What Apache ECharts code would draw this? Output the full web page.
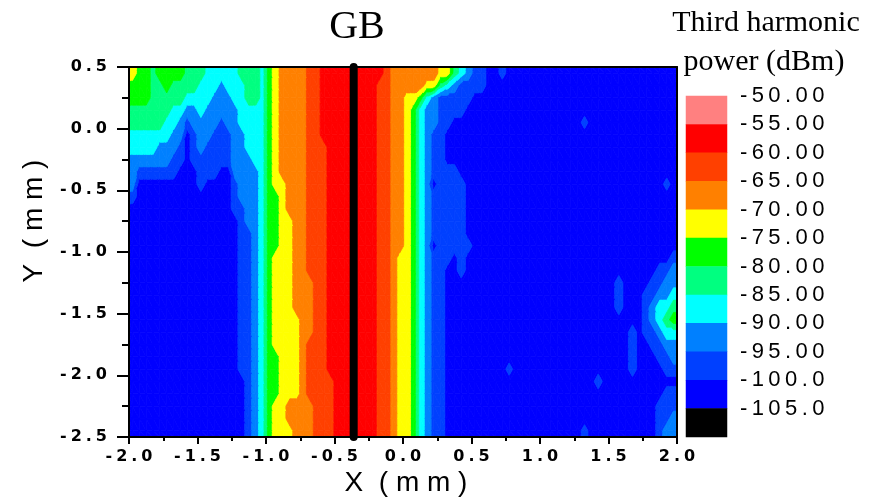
<!DOCTYPE html>
<html>
<head>
<meta charset="utf-8">
<script src="https://cdn.jsdelivr.net/npm/echarts@6/dist/echarts.min.js"></script>
<style>
  html, body { margin: 0; padding: 0; background: #ffffff; }
  #chart { width: 884px; height: 499px; }
</style>
</head>
<body>
<div id="chart"></div>
<script>
// Measurement grid: sample positions in mm (x left to right, y top to bottom)
const xCells = [-1.975,-1.925,-1.875,-1.825,-1.775,-1.725,-1.675,-1.625,-1.575,-1.525,
  -1.475,-1.425,-1.375,-1.325,-1.275,-1.225,-1.175,-1.125,-1.075,-1.025,
  -0.975,-0.925,-0.875,-0.825,-0.775,-0.725,-0.675,-0.625,-0.575,-0.525,
  -0.475,-0.425,-0.375,-0.325,-0.275,-0.225,-0.175,-0.125,-0.075,-0.025,
  0.025,0.075,0.125,0.175,0.225,0.275,0.325,0.375,0.425,0.475,
  0.525,0.575,0.625,0.675,0.725,0.775,0.825,0.875,0.925,0.975,
  1.025,1.075,1.125,1.175,1.225,1.275,1.325,1.375,1.425,1.475,
  1.525,1.575,1.625,1.675,1.725,1.775,1.825,1.875,1.925,1.975];
const yCells = [0.45,0.35,0.25,0.15,0.05,-0.05,-0.15,-0.25,-0.35,-0.45,
  -0.55,-0.65,-0.75,-0.85,-0.95,-1.05,-1.15,-1.25,-1.35,-1.45,
  -1.55,-1.65,-1.75,-1.85,-1.95,-2.05,-2.15,-2.25,-2.35,-2.45];

// Third harmonic power (dBm), one row per yCells entry, one value per xCells entry
const powerRows = [
  [-72,-77,-77,-82,-77,-77,-77,-77,-82,-82, -82,-87,-87,-87,-87,-87,-82,-82,-82,-87, -77,-72,-67,-67,-67,-67,-62,-62,-57,-57, -57,-57,-57,-57,-57,-57,-57,-62,-67,-67, -67,-67,-67,-67,-67,-72,-72,-82,-87,-92, -97,-97,-102,-102,-98,-102,-102,-102,-102,-102, -102,-102,-102,-102,-102,-102,-102,-102,-102,-102, -102,-102,-102,-102,-102,-102,-102,-102,-102,-102],
  [-77,-77,-77,-82,-82,-77,-82,-82,-82,-82, -87,-87,-87,-92,-87,-87,-87,-82,-82,-87, -77,-72,-67,-67,-67,-67,-62,-62,-57,-57, -57,-57,-57,-57,-57,-57,-62,-62,-67,-67, -67,-67,-67,-72,-72,-82,-87,-92,-97,-97, -97,-97,-102,-102,-102,-102,-102,-102,-102,-102, -102,-102,-102,-102,-102,-102,-102,-102,-102,-102, -102,-102,-102,-102,-102,-102,-102,-102,-102,-102],
  [-77,-77,-77,-82,-82,-82,-82,-82,-87,-87, -87,-87,-92,-92,-92,-87,-87,-82,-82,-87, -77,-72,-67,-67,-67,-67,-62,-62,-57,-57, -57,-57,-57,-57,-57,-57,-62,-62,-67,-67, -72,-72,-77,-87,-92,-97,-97,-97,-97,-97, -102,-102,-102,-102,-102,-102,-102,-102,-102,-102, -102,-102,-102,-102,-102,-102,-102,-102,-102,-102, -102,-102,-102,-102,-102,-102,-102,-102,-102,-102],
  [-82,-82,-82,-82,-82,-82,-87,-87,-92,-92, -87,-92,-92,-92,-92,-92,-87,-87,-87,-87, -77,-72,-67,-67,-67,-67,-62,-62,-57,-57, -57,-57,-57,-57,-57,-57,-62,-62,-67,-67, -72,-77,-87,-92,-92,-97,-97,-97,-97,-102, -102,-102,-102,-102,-102,-102,-102,-102,-102,-102, -102,-102,-102,-102,-102,-102,-102,-102,-102,-102, -102,-102,-102,-102,-102,-102,-102,-102,-102,-102],
  [-82,-82,-82,-82,-82,-87,-87,-92,-97,-92, -92,-92,-92,-97,-92,-92,-87,-87,-87,-87, -77,-72,-67,-67,-67,-67,-62,-62,-57,-57, -57,-57,-57,-57,-57,-57,-62,-62,-67,-67, -72,-77,-87,-92,-92,-97,-97,-102,-102,-102, -102,-102,-102,-102,-102,-102,-102,-102,-102,-102, -102,-102,-102,-102,-102,-102,-98,-102,-102,-102, -102,-102,-102,-102,-102,-102,-102,-102,-102,-102],
  [-87,-87,-87,-87,-87,-87,-92,-92,-102,-97, -92,-92,-97,-97,-97,-92,-92,-87,-87,-87, -77,-72,-67,-67,-67,-67,-62,-62,-57,-57, -57,-57,-57,-57,-57,-57,-62,-62,-67,-67, -72,-77,-87,-92,-97,-97,-102,-102,-102,-102, -102,-102,-102,-102,-102,-102,-102,-102,-102,-102, -102,-102,-102,-102,-102,-102,-102,-102,-102,-102, -102,-102,-102,-102,-102,-102,-102,-102,-102,-102],
  [-87,-87,-87,-87,-92,-92,-92,-97,-102,-97, -92,-97,-97,-97,-97,-92,-92,-87,-87,-87, -77,-72,-67,-67,-67,-67,-62,-62,-62,-57, -57,-57,-57,-57,-57,-57,-62,-62,-67,-67, -72,-77,-87,-92,-97,-97,-102,-102,-102,-102, -102,-102,-102,-102,-102,-102,-102,-102,-102,-102, -102,-102,-102,-102,-102,-102,-102,-102,-102,-102, -102,-102,-102,-102,-102,-102,-102,-102,-102,-102],
  [-92,-92,-92,-92,-92,-92,-97,-97,-102,-97, -97,-97,-97,-97,-97,-92,-92,-92,-87,-87, -77,-72,-67,-67,-67,-67,-62,-62,-62,-57, -57,-57,-57,-57,-57,-57,-62,-62,-67,-67, -72,-77,-87,-92,-97,-97,-102,-102,-102,-102, -102,-102,-102,-102,-102,-102,-102,-102,-102,-102, -102,-102,-102,-102,-102,-102,-102,-102,-102,-102, -102,-102,-102,-102,-102,-102,-102,-102,-102,-102],
  [-92,-97,-97,-97,-97,-97,-97,-102,-102,-102, -97,-97,-97,-102,-102,-92,-92,-92,-92,-87, -77,-72,-67,-67,-67,-67,-62,-62,-62,-57, -57,-57,-57,-57,-57,-57,-62,-62,-67,-67, -72,-77,-87,-92,-97,-97,-97,-97,-102,-102, -102,-102,-102,-102,-102,-102,-102,-102,-102,-102, -102,-102,-102,-102,-102,-102,-102,-102,-102,-102, -102,-102,-102,-102,-102,-102,-102,-102,-102,-102],
  [-92,-102,-102,-102,-102,-102,-102,-102,-102,-102, -97,-102,-102,-102,-102,-97,-92,-92,-92,-87, -77,-72,-72,-67,-67,-67,-62,-62,-62,-57, -57,-57,-57,-57,-57,-57,-62,-62,-67,-67, -72,-77,-87,-92,-102,-97,-97,-97,-97,-102, -102,-102,-102,-102,-102,-102,-102,-102,-102,-102, -102,-102,-102,-102,-102,-102,-102,-102,-102,-102, -102,-102,-102,-102,-102,-102,-102,-102,-98,-102],
  [-97,-102,-102,-102,-102,-102,-102,-102,-102,-102, -102,-102,-102,-102,-102,-97,-92,-92,-92,-87, -77,-77,-72,-67,-67,-67,-62,-62,-62,-57, -57,-57,-57,-57,-57,-57,-62,-62,-67,-67, -72,-77,-87,-92,-97,-97,-97,-97,-97,-102, -102,-102,-102,-102,-102,-102,-102,-102,-102,-102, -102,-102,-102,-102,-102,-102,-102,-102,-102,-102, -102,-102,-102,-102,-102,-102,-102,-102,-102,-102],
  [-102,-102,-102,-102,-102,-102,-102,-102,-102,-102, -102,-102,-102,-102,-102,-97,-97,-92,-92,-87, -77,-77,-72,-67,-67,-67,-62,-62,-62,-57, -57,-57,-57,-57,-57,-57,-62,-62,-67,-67, -72,-77,-87,-92,-97,-97,-97,-97,-97,-102, -102,-102,-102,-102,-102,-102,-102,-102,-102,-102, -102,-102,-102,-102,-102,-102,-102,-102,-102,-102, -102,-102,-102,-102,-102,-102,-102,-102,-102,-102],
  [-102,-102,-102,-102,-102,-102,-102,-102,-102,-102, -102,-102,-102,-102,-102,-102,-97,-92,-92,-87, -77,-77,-72,-72,-67,-67,-62,-62,-62,-57, -57,-57,-57,-57,-57,-57,-62,-62,-67,-67, -72,-77,-87,-92,-97,-97,-97,-97,-97,-102, -102,-102,-102,-102,-102,-102,-102,-102,-102,-102, -102,-102,-102,-102,-102,-102,-102,-102,-102,-102, -102,-102,-102,-102,-102,-102,-102,-102,-102,-102],
  [-102,-102,-102,-102,-102,-102,-102,-102,-102,-102, -102,-102,-102,-102,-102,-102,-97,-97,-92,-87, -77,-77,-72,-72,-67,-67,-62,-62,-62,-57, -57,-57,-57,-57,-57,-57,-62,-62,-67,-67, -72,-77,-87,-92,-97,-97,-97,-97,-97,-102, -102,-102,-102,-102,-102,-102,-102,-102,-102,-102, -102,-102,-102,-102,-102,-102,-102,-102,-102,-102, -102,-102,-102,-102,-102,-102,-102,-102,-102,-102],
  [-102,-102,-102,-102,-102,-102,-102,-102,-102,-102, -102,-102,-102,-102,-102,-102,-97,-97,-92,-87, -77,-77,-72,-72,-67,-67,-62,-62,-62,-57, -57,-57,-57,-57,-57,-57,-62,-62,-67,-67, -72,-77,-87,-92,-102,-97,-97,-97,-97,-97, -102,-102,-102,-102,-102,-102,-102,-102,-102,-102, -102,-102,-102,-102,-102,-102,-102,-102,-102,-102, -102,-102,-102,-102,-102,-102,-102,-102,-102,-102],
  [-102,-102,-102,-102,-102,-102,-102,-102,-102,-102, -102,-102,-102,-102,-102,-102,-97,-97,-92,-87, -77,-72,-72,-72,-67,-67,-62,-62,-62,-57, -57,-57,-57,-57,-57,-57,-62,-62,-67,-72, -72,-77,-87,-92,-97,-97,-97,-102,-97,-102, -102,-102,-102,-102,-102,-102,-102,-102,-102,-102, -102,-102,-102,-102,-102,-102,-102,-102,-102,-102, -102,-102,-102,-102,-102,-102,-102,-102,-102,-97],
  [-102,-102,-102,-102,-102,-102,-102,-102,-102,-102, -102,-102,-102,-102,-102,-102,-97,-97,-92,-87, -77,-72,-72,-72,-67,-67,-62,-62,-62,-57, -57,-57,-57,-57,-57,-57,-62,-62,-67,-72, -72,-77,-87,-92,-97,-97,-102,-102,-97,-102, -102,-102,-102,-102,-102,-102,-102,-102,-102,-102, -102,-102,-102,-102,-102,-102,-102,-102,-102,-102, -102,-102,-102,-102,-102,-102,-102,-97,-97,-92],
  [-102,-102,-102,-102,-102,-102,-102,-102,-102,-102, -102,-102,-102,-102,-102,-102,-97,-97,-92,-87, -77,-72,-72,-72,-67,-67,-67,-62,-62,-57, -57,-57,-57,-57,-57,-57,-62,-62,-67,-72, -72,-77,-87,-92,-97,-97,-102,-102,-102,-102, -102,-102,-102,-102,-102,-102,-102,-102,-102,-102, -102,-102,-102,-102,-102,-102,-102,-102,-102,-102, -102,-97,-102,-102,-102,-102,-97,-97,-92,-92],
  [-102,-102,-102,-102,-102,-102,-102,-102,-102,-102, -102,-102,-102,-102,-102,-102,-97,-97,-92,-87, -77,-72,-72,-72,-67,-67,-67,-62,-62,-57, -57,-57,-57,-57,-57,-57,-62,-62,-67,-72, -72,-77,-87,-92,-97,-97,-102,-102,-102,-102, -102,-102,-102,-102,-102,-102,-102,-102,-102,-102, -102,-102,-102,-102,-102,-102,-102,-102,-102,-102, -102,-97,-102,-102,-102,-97,-97,-92,-92,-87],
  [-102,-102,-102,-102,-102,-102,-102,-102,-102,-102, -102,-102,-102,-102,-102,-102,-97,-97,-92,-87, -77,-72,-72,-72,-67,-67,-67,-62,-62,-57, -57,-57,-57,-57,-57,-57,-62,-62,-67,-72, -72,-77,-87,-92,-97,-97,-102,-102,-102,-102, -102,-102,-102,-102,-102,-102,-102,-102,-102,-102, -102,-102,-102,-102,-102,-102,-102,-102,-102,-102, -102,-97,-102,-102,-102,-97,-92,-87,-87,-82],
  [-102,-102,-102,-102,-102,-102,-102,-102,-102,-102, -102,-102,-102,-102,-102,-102,-97,-97,-92,-87, -77,-72,-72,-72,-72,-67,-67,-62,-62,-57, -57,-57,-57,-57,-57,-57,-62,-62,-67,-72, -72,-77,-87,-92,-97,-97,-102,-102,-102,-102, -102,-102,-102,-102,-102,-102,-102,-102,-102,-102, -102,-102,-102,-102,-102,-102,-102,-102,-102,-102, -102,-102,-102,-102,-102,-97,-92,-87,-82,-77],
  [-102,-102,-102,-102,-102,-102,-102,-102,-102,-102, -102,-102,-102,-102,-102,-102,-97,-97,-92,-87, -77,-72,-72,-72,-72,-67,-67,-62,-62,-57, -57,-57,-57,-57,-57,-57,-62,-62,-67,-72, -72,-77,-87,-92,-97,-97,-102,-102,-102,-102, -102,-102,-102,-102,-102,-102,-102,-102,-102,-102, -102,-102,-102,-102,-102,-102,-102,-102,-102,-102, -102,-102,-102,-97,-102,-97,-97,-92,-87,-87],
  [-102,-102,-102,-102,-102,-102,-102,-102,-102,-102, -102,-102,-102,-102,-102,-102,-97,-97,-92,-87, -77,-72,-72,-72,-72,-67,-62,-62,-62,-57, -57,-57,-57,-57,-57,-57,-62,-62,-67,-72, -72,-77,-87,-92,-97,-97,-102,-102,-102,-102, -102,-102,-102,-102,-102,-102,-102,-102,-102,-102, -102,-102,-102,-102,-102,-102,-102,-102,-102,-102, -102,-102,-102,-97,-102,-102,-97,-97,-92,-92],
  [-102,-102,-102,-102,-102,-102,-102,-102,-102,-102, -102,-102,-102,-102,-102,-102,-97,-97,-92,-87, -77,-77,-72,-72,-72,-67,-62,-62,-62,-57, -57,-57,-57,-57,-57,-57,-62,-62,-67,-72, -72,-77,-87,-92,-97,-97,-102,-102,-102,-102, -102,-102,-102,-102,-102,-102,-102,-102,-102,-102, -102,-102,-102,-102,-102,-102,-102,-102,-102,-102, -102,-102,-102,-97,-102,-102,-102,-97,-97,-92],
  [-102,-102,-102,-102,-102,-102,-102,-102,-102,-102, -102,-102,-102,-102,-102,-102,-97,-97,-92,-87, -77,-77,-72,-72,-72,-67,-62,-62,-62,-57, -57,-57,-57,-57,-57,-57,-62,-62,-67,-72, -72,-77,-87,-92,-97,-97,-102,-102,-102,-102, -102,-102,-102,-102,-102,-98,-102,-102,-102,-102, -102,-102,-102,-102,-102,-102,-102,-102,-102,-102, -102,-102,-102,-97,-102,-102,-102,-102,-97,-97],
  [-102,-102,-102,-102,-102,-102,-102,-102,-102,-102, -102,-102,-102,-102,-102,-102,-102,-97,-92,-87, -77,-77,-72,-72,-72,-67,-62,-62,-62,-62, -57,-57,-57,-57,-57,-57,-62,-62,-67,-72, -72,-77,-87,-92,-97,-97,-102,-102,-102,-102, -102,-102,-102,-102,-102,-102,-102,-102,-102,-102, -102,-102,-102,-102,-102,-102,-102,-102,-97,-102, -102,-102,-102,-102,-102,-102,-102,-102,-102,-102],
  [-102,-102,-102,-102,-102,-102,-102,-102,-102,-102, -102,-102,-102,-102,-102,-102,-102,-97,-92,-87, -77,-77,-72,-72,-72,-67,-62,-62,-62,-62, -57,-57,-57,-57,-57,-57,-62,-62,-67,-72, -72,-77,-87,-92,-97,-97,-102,-102,-102,-102, -102,-102,-102,-102,-102,-102,-102,-102,-102,-102, -102,-102,-102,-102,-102,-102,-102,-102,-102,-102, -102,-102,-102,-102,-102,-102,-102,-102,-97,-97],
  [-102,-102,-102,-102,-102,-102,-102,-102,-102,-102, -102,-102,-102,-102,-102,-102,-102,-97,-92,-87, -77,-72,-72,-67,-67,-67,-67,-62,-62,-62, -57,-57,-57,-57,-57,-57,-62,-62,-67,-72, -72,-77,-87,-92,-97,-97,-102,-102,-102,-102, -102,-102,-102,-102,-102,-102,-102,-102,-102,-102, -102,-102,-102,-102,-102,-102,-102,-102,-102,-102, -102,-102,-102,-102,-102,-102,-102,-97,-97,-97],
  [-102,-102,-102,-102,-102,-102,-102,-102,-102,-102, -102,-102,-102,-102,-102,-102,-102,-97,-92,-87, -77,-72,-72,-67,-67,-67,-67,-62,-62,-62, -57,-57,-57,-57,-57,-57,-62,-62,-67,-72, -72,-77,-87,-92,-97,-97,-102,-102,-102,-102, -102,-102,-102,-102,-102,-102,-102,-102,-102,-102, -102,-102,-102,-102,-102,-102,-102,-102,-102,-102, -102,-102,-102,-102,-102,-102,-102,-97,-97,-92],
  [-102,-102,-102,-102,-102,-102,-102,-102,-102,-102, -102,-102,-102,-102,-102,-102,-102,-97,-92,-87, -77,-72,-72,-72,-67,-67,-67,-62,-62,-62, -57,-57,-57,-57,-57,-57,-62,-62,-67,-72, -72,-77,-87,-92,-97,-97,-102,-102,-102,-102, -102,-102,-102,-102,-102,-102,-102,-102,-102,-102, -102,-102,-102,-102,-102,-102,-98,-102,-102,-102, -102,-102,-102,-102,-102,-102,-102,-97,-92,-92]
];

// Contour levels (dBm): band boundaries low to high and the fill of each band
const levelEdges = [-110,-105,-100,-95,-90,-85,-80,-75,-70,-65,-60,-55,-50];
const levelColors = ['#000000','#0000FF','#0040FF','#0080FF','#00FFFF','#00FF80',
                     '#00FF00','#FFFF00','#FF8000','#FF4000','#FF0000','#FF8080'];
// Colour-bar swatches, top to bottom (band mid values)
const legendCells = [-52.5,-57.5,-62.5,-67.5,-72.5,-77.5,-82.5,-87.5,-92.5,-97.5,-102.5,-107.5];

// Grain-boundary marker position (mm)
const markerX = [-0.36, -0.36];
const markerY = [0.5, -2.5];

const black = '#000000';
const spaced = (s, gap) => s.split('').join(gap);

// Contour mesh: sample nodes plus the plot frame, edge samples held out to the frame
const nodeX = [-2].concat(xCells, [2]);
const nodeY = [0.5].concat(yCells, [-2.5]);
const clampIdx = (k, n) => Math.max(0, Math.min(n - 1, k));
const nodeValue = (j, i) => powerRows[clampIdx(j - 1, powerRows.length)][clampIdx(i - 1, xCells.length)];

const squares = [];
for (let j = 0; j < nodeY.length - 1; j++) {
  for (let i = 0; i < nodeX.length - 1; i++) {
    squares.push([nodeX[i], nodeY[j], i, j]);
  }
}

// Keep the part of a convex polygon where side(v) >= 0 (values vary linearly)
function clipPoly(poly, side) {
  const out = [];
  for (let k = 0; k < poly.length; k++) {
    const a = poly[k], b = poly[(k + 1) % poly.length];
    const sa = side(a.v), sb = side(b.v);
    if (sa >= 0) out.push(a);
    if ((sa >= 0) !== (sb >= 0)) {
      const t = sa / (sa - sb);
      out.push({ p: [a.p[0] + t * (b.p[0] - a.p[0]), a.p[1] + t * (b.p[1] - a.p[1])], v: a.v + t * (b.v - a.v) });
    }
  }
  return out;
}

function bandPolygons(tri, children) {
  const vs = tri.map(n => n.v);
  const vmin = Math.min.apply(null, vs), vmax = Math.max.apply(null, vs);
  for (let k = 0; k < levelColors.length; k++) {
    const lo = levelEdges[k], hi = levelEdges[k + 1];
    if (vmax < lo || vmin >= hi) continue;
    let poly = clipPoly(tri, v => v - lo);
    if (poly.length < 3) continue;
    poly = clipPoly(poly, v => hi - v);
    if (poly.length < 3) continue;
    const col = levelColors[k];
    children.push({
      type: 'polygon', silent: true,
      shape: { points: poly.map(n => n.p) },
      style: { fill: col, stroke: col, lineWidth: 0.8 }
    });
  }
}

function renderSquare(params, api) {
  const i = api.value(2), j = api.value(3);
  const corner = (ii, jj) => ({ p: api.coord([nodeX[ii], nodeY[jj]]), v: nodeValue(jj, ii) });
  const a = corner(i, j), b = corner(i + 1, j), c = corner(i + 1, j + 1), d = corner(i, j + 1);
  const children = [];
  if (Math.abs(a.v - c.v) <= Math.abs(b.v - d.v)) {
    bandPolygons([a, b, c], children);
    bandPolygons([a, c, d], children);
  } else {
    bandPolygons([a, b, d], children);
    bandPolygons([b, c, d], children);
  }
  return { type: 'group', children };
}

const tickFont = { fontFamily: 'DejaVu Sans', fontWeight: 'bold', fontSize: 16, color: black };
const tickGap = '\u2005';

const chart = echarts.init(document.getElementById('chart'));
chart.setOption({
  animation: false,
  backgroundColor: '#ffffff',
  title: {
    text: 'GB', left: 352, top: 2, textAlign: 'center',
    textStyle: { fontFamily: 'Liberation Serif', fontWeight: 'normal', fontSize: 40, color: black }
  },
  grid: [
    { left: 129, top: 67, width: 548, height: 370 },
    { left: 686, top: 96, width: 41, height: 341 }
  ],
  xAxis: [
    {
      type: 'value', gridIndex: 0, min: -2, max: 2, interval: 0.5, position: 'bottom', z: 10,
      axisLine: { onZero: false, lineStyle: { color: black, width: 2 } },
      axisTick: { length: 7, lineStyle: { color: black, width: 2 } },
      minorTick: { show: true, splitNumber: 2, length: 4, lineStyle: { color: black, width: 2 } },
      splitLine: { show: false }, minorSplitLine: { show: false },
      axisLabel: Object.assign({ margin: 12, formatter: v => spaced(v.toFixed(1), tickGap) }, tickFont)
    },
    {
      type: 'value', gridIndex: 0, min: -2, max: 2, position: 'top', z: 10,
      axisLine: { onZero: false, lineStyle: { color: black, width: 2 } },
      axisTick: { show: false }, axisLabel: { show: false }, splitLine: { show: false }
    },
    { type: 'category', gridIndex: 1, data: ['swatch'], show: false }
  ],
  yAxis: [
    {
      type: 'value', gridIndex: 0, min: -2.5, max: 0.5, interval: 0.5, position: 'left', z: 10,
      axisLine: { onZero: false, lineStyle: { color: black, width: 2 } },
      axisTick: { length: 12, lineStyle: { color: black, width: 2 } },
      minorTick: { show: true, splitNumber: 2, length: 7, lineStyle: { color: black, width: 2 } },
      splitLine: { show: false }, minorSplitLine: { show: false },
      axisLabel: Object.assign({ margin: 22, formatter: v => spaced(v.toFixed(1), tickGap) }, tickFont)
    },
    {
      type: 'value', gridIndex: 0, min: -2.5, max: 0.5, position: 'right', z: 10,
      axisLine: { onZero: false, lineStyle: { color: black, width: 2 } },
      axisTick: { show: false }, axisLabel: { show: false }, splitLine: { show: false }
    },
    { type: 'category', gridIndex: 1, data: legendCells, inverse: true, show: false },
    {
      type: 'value', gridIndex: 1, min: -110, max: -50, interval: 5, position: 'right',
      axisLine: { show: false }, axisTick: { show: false }, splitLine: { show: false },
      axisLabel: {
        margin: 13, fontFamily: 'Liberation Sans', fontSize: 22, color: black,
        formatter: v => (v <= -110 ? '' : spaced(v.toPrecision(4), '\u2009'))
      }
    }
  ],
  visualMap: {
    type: 'piecewise', show: false, seriesIndex: [1], dimension: 2,
    pieces: levelColors.map((color, k) => ({ gte: levelEdges[k], lt: levelEdges[k + 1], color }))
  },
  series: [
    {
      type: 'custom', coordinateSystem: 'cartesian2d', xAxisIndex: 0, yAxisIndex: 0,
      data: squares, renderItem: renderSquare, silent: true, progressive: 0, clip: true
    },
    {
      type: 'heatmap', xAxisIndex: 2, yAxisIndex: 2,
      data: legendCells.map((v, k) => [0, k, v]),
      progressive: 0, emphasis: { disabled: true }
    },
    {
      type: 'line', xAxisIndex: 0, yAxisIndex: 0, z: 20, clip: false,
      data: markerX.map((x, k) => [x, markerY[k]]),
      symbol: 'none', silent: true,
      lineStyle: { color: black, width: 8, cap: 'round' }
    }
  ],
  graphic: [
    {
      type: 'text', x: 766, y: 23,
      style: { text: 'Third harmonic', font: '30px "Liberation Serif"', fill: black, align: 'center', verticalAlign: 'middle' }
    },
    {
      type: 'text', x: 764, y: 62,
      style: { text: 'power (dBm)', font: '30px "Liberation Serif"', fill: black, align: 'center', verticalAlign: 'middle' }
    },
    {
      type: 'text', x: 406, y: 483,
      style: { text: 'X  ( m m )', font: '28px "Liberation Sans"', fill: black, align: 'center', verticalAlign: 'middle' }
    },
    {
      type: 'text', x: 34, y: 221, rotation: Math.PI / 2,
      style: { text: 'Y  ( m m )', font: '28px "Liberation Sans"', fill: black, align: 'center', verticalAlign: 'middle' }
    }
  ]
});
</script>
</body>
</html>
